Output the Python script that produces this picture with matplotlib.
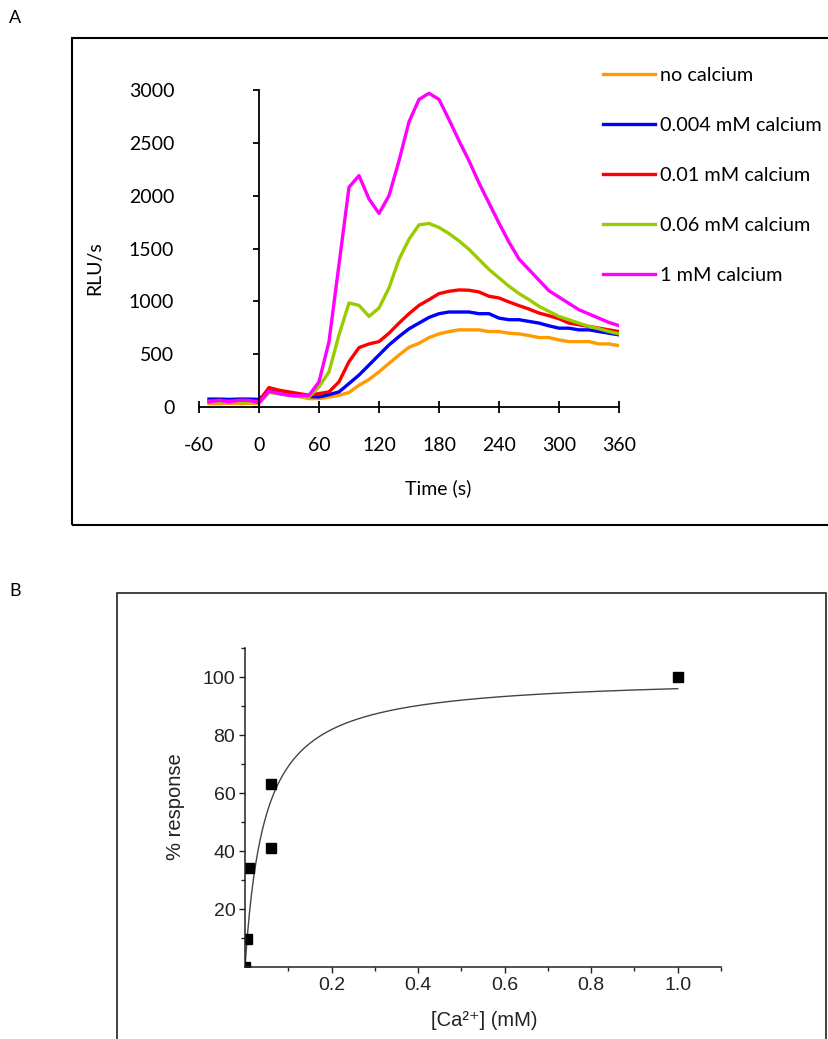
import matplotlib
matplotlib.use("Agg")
import matplotlib.pyplot as plt
from matplotlib.patches import Rectangle
from matplotlib.ticker import FixedLocator
import numpy as np

plt.rcParams["axes.unicode_minus"] = False

# --- panel A: luminescence traces -------------------------------------
time_s = list(range(-50, 361, 10))

no_calcium = [32, 32, 35, 32, 35, 32, 140, 130, 115, 100, 79, 80, 95, 111, 137,
              206, 260, 333, 413, 492, 565, 603, 657, 692, 714, 730, 730, 730,
              714, 714, 698, 692, 676, 657, 657, 635, 619, 619, 619, 597, 597, 581]
ca_0004 = [75, 75, 72, 75, 75, 72, 155, 135, 120, 110, 100, 95, 117, 143, 222,
           302, 397, 492, 587, 667, 740, 794, 848, 883, 899, 899, 899, 883,
           883, 841, 826, 826, 810, 794, 768, 746, 746, 730, 730, 714, 698, 683]
ca_001 = [60, 62, 58, 62, 60, 55, 184, 159, 143, 127, 111, 127, 143, 238, 429,
          562, 597, 619, 698, 794, 883, 962, 1016, 1073, 1095, 1108, 1105, 1089,
          1048, 1032, 994, 959, 927, 889, 864, 835, 794, 778, 762, 746, 730, 714]
ca_006 = [50, 52, 48, 52, 50, 42, 140, 125, 110, 100, 95, 190, 333, 683, 984,
          962, 857, 937, 1127, 1397, 1587, 1724, 1737, 1699, 1641, 1572, 1492, 1397,
          1302, 1222, 1143, 1073, 1016, 953, 905, 857, 826, 794, 762, 740, 714, 692]
ca_1 = [48, 63, 48, 63, 63, 41, 149, 127, 111, 105, 111, 238, 619, 1350, 2080,
        2190, 1969, 1832, 2000, 2330, 2699, 2911, 2969, 2911, 2720, 2520, 2330, 2120,
        1930, 1740, 1560, 1400, 1300, 1200, 1100, 1040, 980, 920, 880, 840, 800, 770]

trace_labels = ["no calcium", "0.004 mM calcium", "0.01 mM calcium",
                "0.06 mM calcium", "1 mM calcium"]
trace_colors = ["#FF9A00", "#0000FF", "#FF0000", "#99CC00", "#FF00FF"]

# --- panel B: dose response -------------------------------------------
ca_mM = [0, 0.004, 0.01, 0.06, 0.06, 1.0]
pct_response = [0, 9.5, 34, 63, 41, 100]
fit_bmax = 100.3
fit_kd = 0.045

fig = plt.figure(figsize=(8.29, 10.39), dpi=100)
W, H = 829, 1039

def fx(px):
    return px / W

def fy(py):
    return 1 - py / H

calibri = ["Lato", "DejaVu Sans"]
arial = ["Liberation Sans", "DejaVu Sans"]

# panel frames and letters
fig.patches.append(Rectangle((fx(72), fy(525)), fx(790), fy(38) - fy(525),
                             transform=fig.transFigure, fill=False,
                             lw=1.5, ec="black", clip_on=False))
fig.patches.append(Rectangle((fx(117), fy(1060)), fx(826) - fx(117), fy(593) - fy(1060),
                             transform=fig.transFigure, fill=False,
                             lw=1.2, ec="#222222", clip_on=False))
fig.text(fx(15), fy(18), "A", family=calibri, fontsize=13, ha="center", va="center")
fig.text(fx(15), fy(591), "B", family=calibri, fontsize=13, ha="center", va="center")

# ---------------- A ----------------
axA = fig.add_axes([fx(199), fy(407), fx(619) - fx(199), fy(90) - fy(407)])
series = [no_calcium, ca_0004, ca_001, ca_006, ca_1]
for vals, lab, col in zip(series, trace_labels, trace_colors):
    axA.plot(time_s, vals, color=col, lw=2.4, label=lab, solid_joinstyle="round")

axA.set_xlim(-60, 360)
axA.set_ylim(0, 3000)
axA.spines["top"].set_visible(False)
axA.spines["right"].set_visible(False)
axA.spines["left"].set_position(("data", 0))
for s in ("left", "bottom"):
    axA.spines[s].set_linewidth(1.3)
axA.set_xticks(range(-60, 361, 60))
axA.set_yticks(range(0, 3001, 500))
axA.tick_params(axis="x", direction="inout", length=9, width=1.3, pad=17,
                labelsize=14, labelfontfamily="Lato")
axA.tick_params(axis="y", direction="out", length=4, width=1.3, pad=57,
                labelsize=14, labelfontfamily="Lato")
axA.text(fx(438), fy(488), "Time (s)", transform=fig.transFigure, family=calibri,
         fontsize=14, ha="center", va="center")
axA.text(fx(95), fy(268), "RLU/s", transform=fig.transFigure, family=calibri,
         fontsize=14, ha="center", va="center", rotation=90)

leg = axA.legend(loc="upper left", bbox_to_anchor=(fx(603), fy(67)),
                 bbox_transform=fig.transFigure, frameon=False,
                 prop={"family": calibri, "size": 14.3}, handlelength=2.6,
                 handletextpad=0.28, labelspacing=1.66, borderpad=0, borderaxespad=0)

# ---------------- B ----------------
axB = fig.add_axes([fx(245), fy(967), fx(721) - fx(245), fy(648) - fy(967)])
xfit = np.linspace(0, 1.0, 400)
axB.plot(xfit, fit_bmax * xfit / (fit_kd + xfit), color="#444444", lw=1.0)
axB.plot(ca_mM, pct_response, ls="none", marker="s", ms=7.5, color="black")

axB.set_xlim(0, 1.1)
axB.set_ylim(0, 110)
axB.spines["top"].set_visible(False)
axB.spines["right"].set_visible(False)
for s in ("left", "bottom"):
    axB.spines[s].set_linewidth(1.1)
    axB.spines[s].set_color("#222222")
axB.xaxis.set_major_locator(FixedLocator([0.2, 0.4, 0.6, 0.8, 1.0]))
axB.xaxis.set_minor_locator(FixedLocator([0.1, 0.3, 0.5, 0.7, 0.9, 1.1]))
axB.yaxis.set_major_locator(FixedLocator([20, 40, 60, 80, 100]))
axB.yaxis.set_minor_locator(FixedLocator([10, 30, 50, 70, 90, 110]))
axB.set_xticklabels(["0.2", "0.4", "0.6", "0.8", "1.0"])
axB.tick_params(which="major", length=4.5, width=1.0, color="#222222",
                labelsize=14, pad=2.5, labelcolor="#222222",
                labelfontfamily="Liberation Sans")
axB.tick_params(which="minor", length=3, width=1.0, color="#222222")
axB.text(fx(484), fy(1020), "[Ca²⁺] (mM)", transform=fig.transFigure,
         family=arial, fontsize=14.5, ha="center", va="center", color="#222222")
axB.text(fx(176), fy(807), "% response", transform=fig.transFigure,
         family=arial, fontsize=14.5, ha="center", va="center", rotation=90,
         color="#222222")

fig.savefig("out.png", dpi=100)
